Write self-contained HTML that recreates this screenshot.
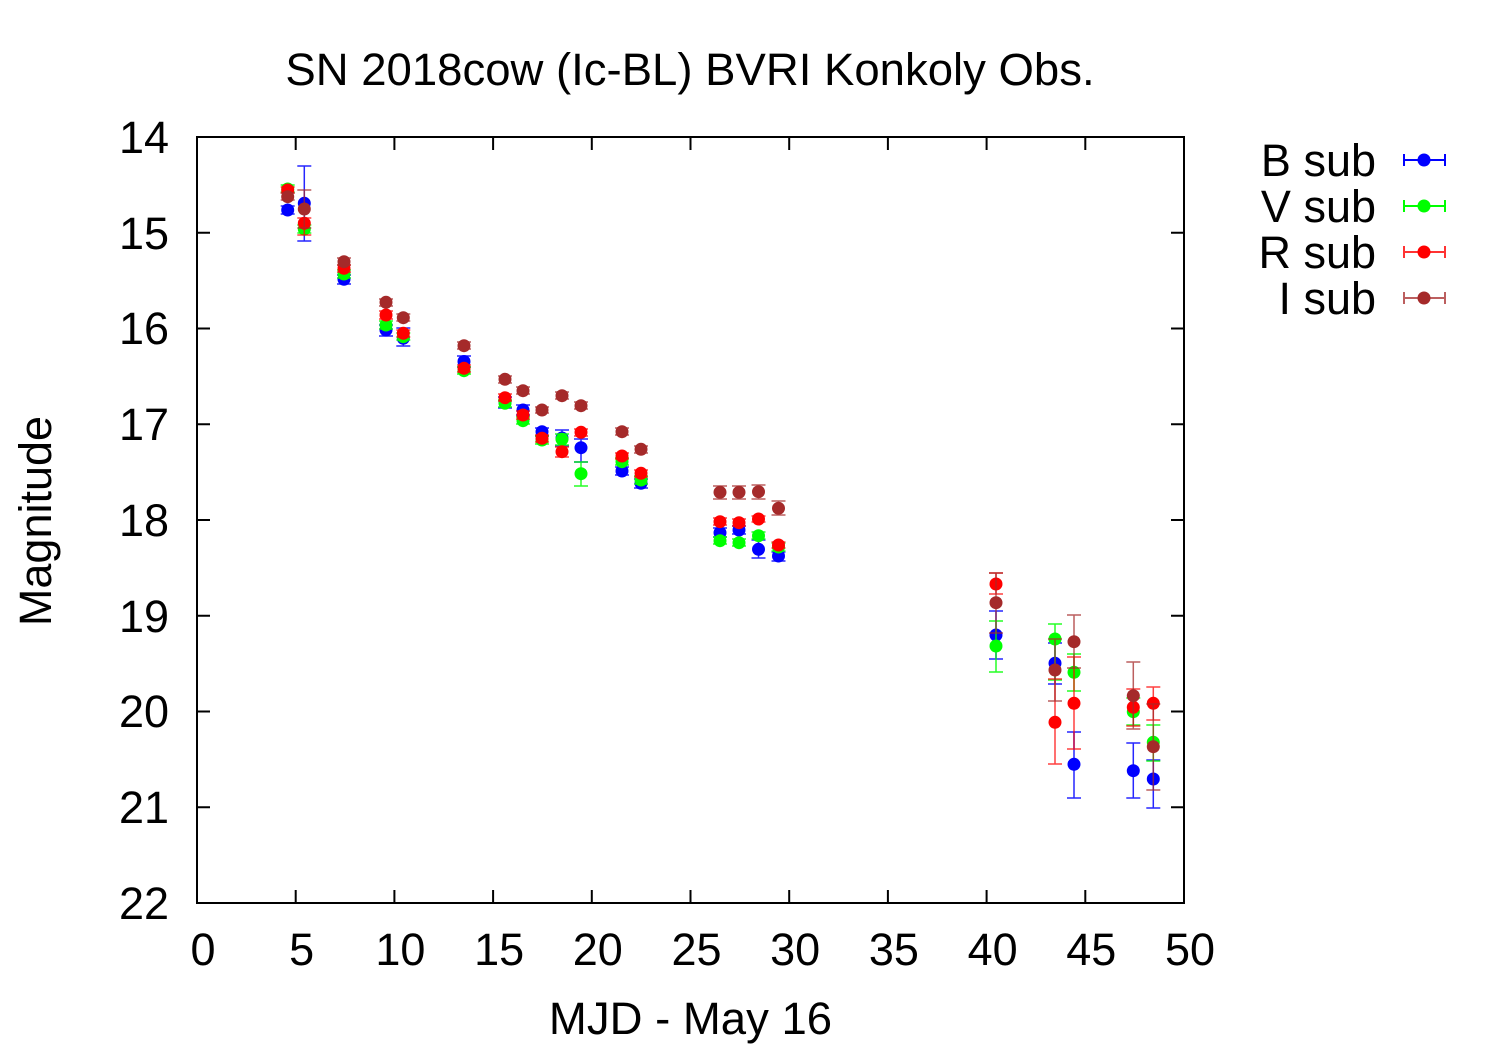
<!DOCTYPE html>
<html><head><meta charset="utf-8"><style>
html,body{margin:0;padding:0;background:#fff;}
svg{display:block;font-family:"Liberation Sans",sans-serif;}
</style></head><body>
<svg width="1500" height="1050" viewBox="0 0 1500 1050" xmlns="http://www.w3.org/2000/svg">
<rect width="1500" height="1050" fill="#fff"/>
<text x="690" y="85" font-size="45.5" text-anchor="middle">SN 2018cow (Ic-BL) BVRI Konkoly Obs.</text>
<g stroke="#000" stroke-width="2" fill="none">
<rect x="197" y="137" width="987" height="766"/>
<path d="M295.7,903v-13M394.4,903v-13M493.1,903v-13M591.8,903v-13M690.5,903v-13M789.2,903v-13M887.9,903v-13M986.6,903v-13M1085.3,903v-13
M295.7,137v13M394.4,137v13M493.1,137v13M591.8,137v13M690.5,137v13M789.2,137v13M887.9,137v13M986.6,137v13M1085.3,137v13
M197,232.75h13M197,328.5h13M197,424.25h13M197,520h13M197,615.75h13M197,711.5h13M197,807.25h13
M1184,232.75h-13M1184,328.5h-13M1184,424.25h-13M1184,520h-13M1184,615.75h-13M1184,711.5h-13M1184,807.25h-13"/>
</g>
<g font-size="45" text-anchor="end">
<text x="169" y="153">14</text>
<text x="169" y="249">15</text>
<text x="169" y="344">16</text>
<text x="169" y="440">17</text>
<text x="169" y="536">18</text>
<text x="169" y="632">19</text>
<text x="169" y="727">20</text>
<text x="169" y="823">21</text>
<text x="169" y="919">22</text>
</g>
<g font-size="45" text-anchor="middle">
<text x="203" y="965">0</text>
<text x="301.7" y="965">5</text>
<text x="400.4" y="965">10</text>
<text x="499.1" y="965">15</text>
<text x="597.8" y="965">20</text>
<text x="696.5" y="965">25</text>
<text x="795.2" y="965">30</text>
<text x="893.9" y="965">35</text>
<text x="992.6" y="965">40</text>
<text x="1091.3" y="965">45</text>
<text x="1190" y="965">50</text>
<text x="690.5" y="1034" font-size="45.5">MJD - May 16</text>
<text transform="translate(51,521) rotate(-90)" x="0" y="0">Magnitude</text>
</g>

<!-- B -->
<g stroke="#0000ff" stroke-width="1.5" fill="none" stroke-opacity="0.85">
<path d="M287.7,206V214M280.7,206h14M280.7,214h14
M304.3,166V241M297.3,166h14M297.3,241h14
M344,275V284M337,275h14M337,284h14
M386,325V336M379,325h14M379,336h14
M403.3,328V346M396.3,328h14M396.3,346h14
M464,356V367M457,356h14M457,367h14
M505,397V408M498,397h14M498,408h14
M523,405V415M516,405h14M516,415h14
M542,428V436M535,428h14M535,436h14
M562,430V446M555,430h14M555,446h14
M581,439V462M574,439h14M574,462h14
M622,467V475M615,467h14M615,475h14
M641,479V488M634,479h14M634,488h14
M720,528V537M713,528h14M713,537h14
M739,526V534M732,526h14M732,534h14
M758.5,540V558M751.5,540h14M751.5,558h14
M778.5,552V561M771.5,552h14M771.5,561h14
M996,611V659M989,611h14M989,659h14
M1055,643V684M1048,643h14M1048,684h14
M1074,732V798M1067,732h14M1067,798h14
M1133.3,743V798M1126.3,743h14M1126.3,798h14
M1153.3,760V808M1146.3,760h14M1146.3,808h14"/>
</g>
<g fill="#0000ff">
<circle cx="287.7" cy="210" r="6.5"/><circle cx="304.3" cy="203.3" r="6.5"/><circle cx="344" cy="279.3" r="6.5"/>
<circle cx="386" cy="330" r="6.5"/><circle cx="403.3" cy="338.3" r="6.5"/><circle cx="464" cy="361.5" r="6.5"/>
<circle cx="505" cy="402" r="6.5"/><circle cx="523" cy="410" r="6.5"/><circle cx="542" cy="431.7" r="6.5"/>
<circle cx="562" cy="438" r="6.5"/><circle cx="581" cy="447.7" r="6.5"/><circle cx="622" cy="471" r="6.5"/>
<circle cx="641" cy="483.3" r="6.5"/><circle cx="720" cy="532.7" r="6.5"/><circle cx="739" cy="530" r="6.5"/>
<circle cx="758.5" cy="549.3" r="6.5"/><circle cx="778.5" cy="556" r="6.5"/><circle cx="996" cy="635" r="6.5"/>
<circle cx="1055" cy="663.3" r="6.5"/><circle cx="1074" cy="764.3" r="6.5"/><circle cx="1133.3" cy="770.7" r="6.5"/>
<circle cx="1153.3" cy="779" r="6.5"/>
</g>

<!-- V -->
<g stroke="#00ff00" stroke-width="1.5" fill="none" stroke-opacity="0.85">
<path d="M287.7,185V192M280.7,185h14M280.7,192h14
M304.3,225V233M297.3,225h14M297.3,233h14
M344,270V278M337,270h14M337,278h14
M386,321V329M379,321h14M379,329h14
M403.3,333V340M396.3,333h14M396.3,340h14
M464,367V374M457,367h14M457,374h14
M505,400V407M498,400h14M498,407h14
M523,417V424M516,417h14M516,424h14
M542,436V444M535,436h14M535,444h14
M562,434V445M555,434h14M555,445h14
M581,462V486M574,462h14M574,486h14
M622,458V465M615,458h14M615,465h14
M641,476V484M634,476h14M634,484h14
M720,537V544M713,537h14M713,544h14
M739,539V546M732,539h14M732,546h14
M758.5,532V539M751.5,532h14M751.5,539h14
M778.5,543V551M771.5,543h14M771.5,551h14
M996,621V672M989,621h14M989,672h14
M1055,624V680M1048,624h14M1048,680h14
M1074,654V691M1067,654h14M1067,691h14
M1133.3,698V725M1126.3,698h14M1126.3,725h14
M1153.3,725V761M1146.3,725h14M1146.3,761h14"/>
</g>
<g fill="#00ff00">
<circle cx="287.7" cy="189" r="6.5"/><circle cx="304.3" cy="229" r="6.5"/><circle cx="344" cy="274" r="6.5"/>
<circle cx="386" cy="325" r="6.5"/><circle cx="403.3" cy="336.7" r="6.5"/><circle cx="464" cy="370.7" r="6.5"/>
<circle cx="505" cy="403.3" r="6.5"/><circle cx="523" cy="420.7" r="6.5"/><circle cx="542" cy="440" r="6.5"/>
<circle cx="562" cy="439.3" r="6.5"/><circle cx="581" cy="473.7" r="6.5"/><circle cx="622" cy="461.7" r="6.5"/>
<circle cx="641" cy="480" r="6.5"/><circle cx="720" cy="540.7" r="6.5"/><circle cx="739" cy="542.7" r="6.5"/>
<circle cx="758.5" cy="535.7" r="6.5"/><circle cx="778.5" cy="547" r="6.5"/><circle cx="996" cy="646" r="6.5"/>
<circle cx="1055" cy="639" r="6.5"/><circle cx="1074" cy="672.3" r="6.5"/><circle cx="1133.3" cy="711.7" r="6.5"/>
<circle cx="1153.3" cy="742.3" r="6.5"/>
</g>

<!-- R -->
<g stroke="#ff0000" stroke-width="1.5" fill="none" stroke-opacity="0.75">
<path d="M287.7,187V193M280.7,187h14M280.7,193h14
M304.3,218V235M297.3,218h14M297.3,235h14
M344,265V272M337,265h14M337,272h14
M386,311V319M379,311h14M379,319h14
M403.3,330V337M396.3,330h14M396.3,337h14
M464,365V372M457,365h14M457,372h14
M505,394V401M498,394h14M498,401h14
M523,411V419M516,411h14M516,419h14
M542,435V442M535,435h14M535,442h14
M562,447V457M555,447h14M555,457h14
M581,429V436M574,429h14M574,436h14
M622,453V459M615,453h14M615,459h14
M641,470V477M634,470h14M634,477h14
M720,518V525M713,518h14M713,525h14
M739,519V526M732,519h14M732,526h14
M758.5,516V522M751.5,516h14M751.5,522h14
M778.5,542V548M771.5,542h14M771.5,548h14
M996,573V594M989,573h14M989,594h14
M1055,679V764M1048,679h14M1048,764h14
M1074,657V749M1067,657h14M1067,749h14
M1133.3,689V726M1126.3,689h14M1126.3,726h14
M1153.3,687V720M1146.3,687h14M1146.3,720h14"/>
</g>
<g fill="#ff0000">
<circle cx="287.7" cy="190" r="6.5"/><circle cx="304.3" cy="223.3" r="6.5"/><circle cx="344" cy="268.3" r="6.5"/>
<circle cx="386" cy="315" r="6.5"/><circle cx="403.3" cy="333.3" r="6.5"/><circle cx="464" cy="368.3" r="6.5"/>
<circle cx="505" cy="397.7" r="6.5"/><circle cx="523" cy="415" r="6.5"/><circle cx="542" cy="438.3" r="6.5"/>
<circle cx="562" cy="451.7" r="6.5"/><circle cx="581" cy="432.3" r="6.5"/><circle cx="622" cy="456" r="6.5"/>
<circle cx="641" cy="473.3" r="6.5"/><circle cx="720" cy="521.7" r="6.5"/><circle cx="739" cy="522.7" r="6.5"/>
<circle cx="758.5" cy="519" r="6.5"/><circle cx="778.5" cy="545" r="6.5"/><circle cx="996" cy="584" r="6.5"/>
<circle cx="1055" cy="722.3" r="6.5"/><circle cx="1074" cy="703.3" r="6.5"/><circle cx="1133.3" cy="707.3" r="6.5"/>
<circle cx="1153.3" cy="703.3" r="6.5"/>
</g>

<!-- I -->
<g stroke="#a52a2a" stroke-width="1.5" fill="none" stroke-opacity="0.75">
<path d="M287.7,193V200M280.7,193h14M280.7,200h14
M304.3,190V228M297.3,190h14M297.3,228h14
M344,258V265M337,258h14M337,265h14
M386,299V306M379,299h14M379,306h14
M403.3,314V321M396.3,314h14M396.3,321h14
M464,342V349M457,342h14M457,349h14
M505,376V383M498,376h14M498,383h14
M523,387V394M516,387h14M516,394h14
M542,407V413M535,407h14M535,413h14
M562,392V399M555,392h14M555,399h14
M581,402V409M574,402h14M574,409h14
M622,428V435M615,428h14M615,435h14
M641,446V453M634,446h14M634,453h14
M720,486V499M713,486h14M713,499h14
M739,486V499M732,486h14M732,499h14
M758.5,485V499M751.5,485h14M751.5,499h14
M778.5,501V515M771.5,501h14M771.5,515h14
M996,573V633M989,573h14M989,633h14
M1055,639V701M1048,639h14M1048,701h14
M1074,615V668M1067,615h14M1067,668h14
M1133.3,662V729M1126.3,662h14M1126.3,729h14
M1153.3,704V790M1146.3,704h14M1146.3,790h14"/>
</g>
<g fill="#a52a2a">
<circle cx="287.7" cy="196.7" r="6.5"/><circle cx="304.3" cy="209" r="6.5"/><circle cx="344" cy="261.7" r="6.5"/>
<circle cx="386" cy="302.3" r="6.5"/><circle cx="403.3" cy="317.7" r="6.5"/><circle cx="464" cy="345.7" r="6.5"/>
<circle cx="505" cy="379.3" r="6.5"/><circle cx="523" cy="390.7" r="6.5"/><circle cx="542" cy="410" r="6.5"/>
<circle cx="562" cy="395.7" r="6.5"/><circle cx="581" cy="405.7" r="6.5"/><circle cx="622" cy="431.7" r="6.5"/>
<circle cx="641" cy="449.3" r="6.5"/><circle cx="720" cy="492.3" r="6.5"/><circle cx="739" cy="492.3" r="6.5"/>
<circle cx="758.5" cy="491.7" r="6.5"/><circle cx="778.5" cy="508.3" r="6.5"/><circle cx="996" cy="602.7" r="6.5"/>
<circle cx="1055" cy="670" r="6.5"/><circle cx="1074" cy="641.7" r="6.5"/><circle cx="1133.3" cy="695.7" r="6.5"/>
<circle cx="1153.3" cy="746.7" r="6.5"/>
</g>

<!-- Legend -->
<g font-size="45" text-anchor="end">
<text x="1376" y="176">B sub</text>
<text x="1376" y="222">V sub</text>
<text x="1376" y="268">R sub</text>
<text x="1376" y="314">I sub</text>
</g>
<g stroke-width="2" fill="none">
<path stroke="#0000ff" d="M1404,160H1445M1404,154V166M1445,154V166"/>
<path stroke="#00ff00" d="M1404,206H1445M1404,200V212M1445,200V212"/>
<path stroke="#ff0000" stroke-opacity="0.8" d="M1404,252H1445M1404,246V258M1445,246V258"/>
<path stroke="#a52a2a" stroke-opacity="0.75" d="M1404,298H1445M1404,292V304M1445,292V304"/>
</g>
<circle cx="1424" cy="160" r="6.5" fill="#0000ff"/>
<circle cx="1424" cy="206" r="6.5" fill="#00ff00"/>
<circle cx="1424" cy="252" r="6.5" fill="#ff0000"/>
<circle cx="1424" cy="298" r="6.5" fill="#a52a2a"/>
</svg>
</body></html>
